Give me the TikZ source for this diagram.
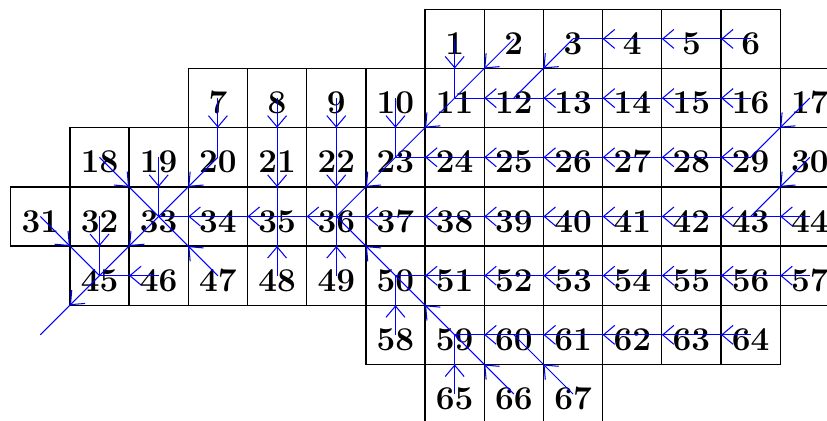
\documentclass[tikz,border=0pt]{standalone}
\usepackage{tikz}
\usetikzlibrary{arrows.meta, decorations.markings}

\begin{document}
\begin{tikzpicture}[
        x=1cm, y=1cm,
        cell/.style={draw, line width=0.6pt, minimum size=1cm, inner sep=0pt, font=\fontsize{16}{16}\selectfont\bfseries, text height=15.1pt, text depth=0pt},
        flow/.style={blue, line width=0.5pt, postaction={decorate}, decoration={markings, mark=at position 0.5 with {\arrow{Straight Barb[length=1.9mm, width=3.2mm, line width=0.5pt]}}}},
    ]
    \clip (-0.181,0.157) rectangle (13.79,-6.955);

    % Cells, row by row: row/first column/first number/last number
    \foreach \r/\c/\first/\last in {0/7/1/6, 1/3/7/17, 2/1/18/30, 3/0/31/44, 4/1/45/57, 5/6/58/64, 6/7/65/67} {
        \foreach \n in {\first,...,\last} {
            \pgfmathtruncatemacro\col{\c+\n-\first}
            \node[cell] (c\n) at (\col+0.5,-\r-0.5) {\n};
        }
    }

    % Outlet
    \coordinate (out) at (0.5,-5.5);

    % Flow directions
    \foreach \a/\b in {1/11, 2/11, 3/12, 4/3, 5/4, 6/5,
            7/20, 8/21, 9/22, 10/23, 11/23, 12/11, 13/12, 14/13, 15/14, 16/15, 17/29,
            18/33, 19/33, 20/33, 21/35, 22/36, 23/36, 24/23, 25/24, 26/25, 27/26, 28/27, 29/28, 30/43,
            31/45, 32/45, 33/45, 34/33, 35/34, 36/35, 37/36, 38/37, 39/38, 40/39, 41/40, 42/41, 43/42, 44/43,
            46/45, 47/33, 48/35, 49/36, 50/36, 51/50, 52/51, 53/52, 54/53, 55/54, 56/55, 57/56,
            58/50, 59/50, 60/59, 61/60, 62/61, 63/62, 64/63,
            65/59, 66/59, 67/60}
        \draw[flow] (c\a.center) -- (c\b.center);
    \draw[flow] (c45.center) -- (out);
\end{tikzpicture}
\end{document}
